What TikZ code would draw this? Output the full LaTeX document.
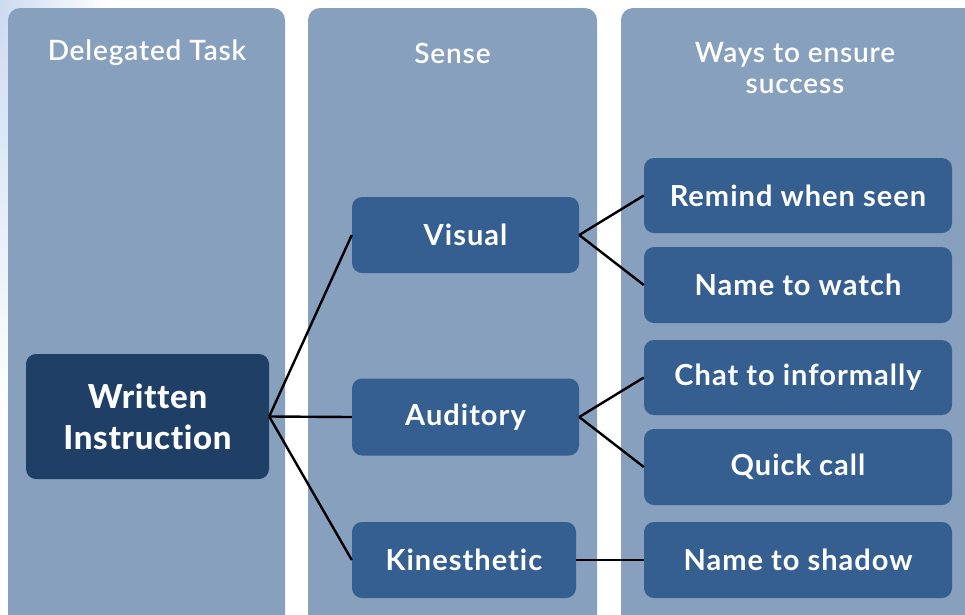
\documentclass[tikz,border=0pt]{standalone}
\usepackage{fontspec}
\IfFontExistsTF{Lato Semibold}
  {\newfontfamily\headfont[LetterSpace=3,Ligatures=NoCommon]{Lato Semibold}}
  {\newfontfamily\headfont[LetterSpace=3,Ligatures=NoCommon]{Lato}}
\newfontfamily\boxfont[LetterSpace=3.5,Ligatures=NoCommon]{Lato Bold}
\IfFontExistsTF{Lato Heavy}
  {\newfontfamily\rootfont[LetterSpace=2,Ligatures=NoCommon]{Lato Heavy}}
  {\newfontfamily\rootfont[LetterSpace=2,Ligatures=NoCommon]{Lato Bold}}
\definecolor{panelblue}{RGB}{135,160,189}
\definecolor{boxblue}{RGB}{53,95,145}
\definecolor{darkblue}{RGB}{31,63,103}
\definecolor{hazeblue}{RGB}{205,219,240}
\tikzset{
  panel/.style={fill=panelblue, draw=none, rounded corners=12pt},
  header/.style={text=white, font=\headfont\fontsize{28}{32}\selectfont, align=center},
  box/.style={fill=boxblue, draw=none, rounded corners=10pt, text=white,
    font=\boxfont\fontsize{29}{34}\selectfont, align=center, inner sep=0pt},
  rootbox/.style={box, fill=darkblue, font=\rootfont\fontsize{33}{41}\selectfont},
  link/.style={draw=black, line width=2.4pt}
}
\begin{document}
\begin{tikzpicture}[x=1pt,y=-1pt]
\useasboundingbox (0,0) rectangle (965,614);
\clip (0,0) rectangle (965,614);
\fill[white] (0,0) rectangle (965,614);
% soft glow in the upper left corner
\shade[inner color=hazeblue, outer color=white] (-110,-420) rectangle (110,420);

% column panels
\path[panel] (8,8) rectangle (285,640);
\path[panel] (308,8) rectangle (597,640);
\path[panel] (621,8) rectangle (990,640);

% column headings
\node[header] (h1) at (147,53) {Delegated Task};
\node[header] (h2) at (452.5,53) {Sense};
\node[header] (h3) at (795,68) {Ways to ensure\\[-1pt]success};

% boxes
\node[rootbox, minimum width=243pt, minimum height=125pt] (written) at (147.5,416.5) {Written\\Instruction};
\node[box, minimum width=227pt, minimum height=76pt] (visual) at (465.5,235) {Visual};
\node[box, minimum width=227pt, minimum height=77pt] (auditory) at (465.5,417) {Auditory};
\node[box, minimum width=224pt, minimum height=76pt] (kinesthetic) at (464,560) {Kinesthetic};

\node[box, minimum width=308pt, minimum height=75pt] (remind) at (798,195.5) {Remind when seen};
\node[box, minimum width=308pt, minimum height=76pt] (watch) at (798,285) {Name to watch};
\node[box, minimum width=308pt, minimum height=75pt] (chat) at (798,377.5) {Chat to informally};
\node[box, minimum width=308pt, minimum height=76pt] (call) at (798,467) {Quick call};
\node[box, minimum width=308pt, minimum height=76pt] (shadow) at (798,560) {Name to shadow};

% connectors
\draw[link] (written.east) -- (visual.west);
\draw[link] (written.east) -- (auditory.west);
\draw[link] (written.east) -- (kinesthetic.west);
\draw[link] (visual.east) -- (remind.west);
\draw[link] (visual.east) -- (watch.west);
\draw[link] (auditory.east) -- (chat.west);
\draw[link] (auditory.east) -- (call.west);
\draw[link] (kinesthetic.east) -- (shadow.west);
\end{tikzpicture}
\end{document}
